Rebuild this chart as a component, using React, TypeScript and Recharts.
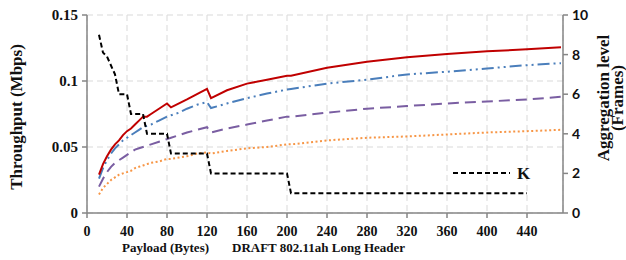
import React from 'react';
import { LineChart, Line, XAxis, YAxis, CartesianGrid } from 'recharts';

// payload sizes (bytes) where the curves were sampled
const payload = [12, 16, 20, 24, 28, 32, 36, 40, 44, 48, 52, 56, 60, 64, 72, 80, 84, 92, 100, 110, 120, 124, 140, 160, 180, 200, 204, 240, 280, 320, 360, 400, 440, 474];

// throughput (Mbps), left axis
const redSeries = [0.029, 0.037, 0.043, 0.048, 0.052, 0.055, 0.059, 0.062, 0.064, 0.067, 0.07, 0.073, 0.073, 0.075, 0.079, 0.083, 0.08, 0.083, 0.086, 0.09, 0.094, 0.087, 0.093, 0.098, 0.101, 0.104, 0.104, 0.11, 0.1145, 0.118, 0.1205, 0.1225, 0.124, 0.1255];
const blueSeries = [0.026, 0.034, 0.04, 0.045, 0.049, 0.052, 0.055, 0.057, 0.059, 0.061, 0.063, 0.065, 0.066, 0.067, 0.07, 0.073, 0.074, 0.076, 0.079, 0.082, 0.084, 0.0795, 0.083, 0.087, 0.0905, 0.0935, 0.094, 0.098, 0.101, 0.105, 0.107, 0.1095, 0.112, 0.1135];
const purpleSeries = [0.02, 0.026, 0.031, 0.035, 0.038, 0.04, 0.042, 0.044, 0.046, 0.048, 0.049, 0.05, 0.051, 0.052, 0.054, 0.056, 0.057, 0.059, 0.061, 0.063, 0.065, 0.061, 0.064, 0.067, 0.07, 0.073, 0.073, 0.076, 0.079, 0.081, 0.083, 0.0845, 0.086, 0.088];
const orangeSeries = [0.014, 0.019, 0.022, 0.025, 0.027, 0.029, 0.03, 0.031, 0.032, 0.034, 0.035, 0.036, 0.037, 0.038, 0.039, 0.041, 0.041, 0.042, 0.043, 0.045, 0.046, 0.045, 0.047, 0.049, 0.05, 0.052, 0.052, 0.055, 0.057, 0.058, 0.0595, 0.061, 0.062, 0.063];

// aggregation level K (frames), right axis
const kSeries = [9, 8.1, 7.9, 7.45, 7, 6, 6, 6, 5, 5, 5, 5, 4, 4, 4, 4, 3, 3, 3, 3, 3, 2, 2, 2, 2, 2, 1, 1, 1, 1, 1, 1, 1, null];

const xTicks = [0, 40, 80, 120, 160, 200, 240, 280, 320, 360, 400, 440];
const leftTicks = [0, 0.05, 0.1, 0.15];
const rightTicks = [0, 2, 4, 6, 8, 10];

const data = payload.map((x, i) => ({
  x,
  red: redSeries[i],
  blue: blueSeries[i],
  purple: purpleSeries[i],
  orange: orangeSeries[i],
  k: kSeries[i],
}));

const serif = '"Liberation Serif", "Times New Roman", serif';
const axisGray = '#868686';

export default function App() {
  return (
    <div style={{ position: 'absolute', left: 0, top: 0, width: 626, height: 260, background: '#fff', fontFamily: serif, overflow: 'hidden' }}>
      <LineChart width={626} height={260} data={data} margin={{ top: 15, right: 0, left: 0, bottom: 27 }}>
        <CartesianGrid yAxisId="left" stroke="#d9d9d9" strokeDasharray="6 4" />
        <XAxis
          dataKey="x"
          type="number"
          domain={[0, 476]}
          ticks={xTicks}
          height={20}
          tickSize={5}
          tickMargin={8}
          stroke={axisGray}
          strokeWidth={1.5}
          tick={{ fill: '#111', fontSize: 14, fontWeight: 'bold', fontFamily: serif }}
        />
        <YAxis
          yAxisId="left"
          domain={[0, 0.15]}
          ticks={leftTicks}
          width={87}
          tickSize={5}
          tickMargin={4}
          stroke={axisGray}
          strokeWidth={1.5}
          tickFormatter={(v) => String(v)}
          tick={{ fill: '#111', fontSize: 15, fontWeight: 'bold', fontFamily: serif }}
        />
        <YAxis
          yAxisId="right"
          orientation="right"
          domain={[0, 10]}
          ticks={rightTicks}
          width={63}
          tickSize={5}
          tickMargin={4}
          stroke={axisGray}
          strokeWidth={1.5}
          tick={{ fill: '#111', fontSize: 14, fontWeight: 'bold', fontFamily: 'Lato, "Liberation Sans", sans-serif', textAnchor: 'start' }}
        />
        <Line yAxisId="left" type="linear" dataKey="orange" stroke="#F79646" strokeWidth={2} strokeDasharray="2 2.5" dot={false} isAnimationActive={false} />
        <Line yAxisId="left" type="linear" dataKey="purple" stroke="#7A5EA2" strokeWidth={2} strokeDasharray="11 6" dot={false} isAnimationActive={false} />
        <Line yAxisId="left" type="linear" dataKey="blue" stroke="#4A7EBB" strokeWidth={2} strokeDasharray="12 4 2 4 2 4" dot={false} isAnimationActive={false} />
        <Line yAxisId="left" type="linear" dataKey="red" stroke="#C00000" strokeWidth={2} dot={false} isAnimationActive={false} />
        <Line yAxisId="right" type="linear" dataKey="k" stroke="#000" strokeWidth={2} strokeDasharray="5 3" dot={false} connectNulls={false} isAnimationActive={false} />
      </LineChart>

      {/* legend for K */}
      <svg style={{ position: 'absolute', left: 450, top: 160 }} width={90} height={26}>
        <line x1={3} y1={13} x2={60} y2={13} stroke="#000" strokeWidth={2} strokeDasharray="5 3" />
        <text x={67} y={19} fontSize={17} fontWeight="bold" fontFamily={serif} fill="#111">K</text>
      </svg>

      {/* axis titles */}
      <div style={{ position: 'absolute', left: 17, top: 117, transform: 'translate(-50%, -50%) rotate(-90deg)', whiteSpace: 'nowrap', fontSize: 17, fontWeight: 'bold', color: '#111' }}>
        Throughput (Mbps)
      </div>
      <div style={{ position: 'absolute', left: 611, top: 98, transform: 'translate(-50%, -50%) rotate(-90deg)', whiteSpace: 'nowrap', fontSize: 17, fontWeight: 'bold', color: '#111', textAlign: 'center', lineHeight: '14px' }}>
        Aggregation level<br />(Frames)
      </div>
      <div style={{ position: 'absolute', left: 122, top: 240, whiteSpace: 'nowrap', fontSize: 13, fontWeight: 'bold', color: '#111' }}>
        Payload (Bytes)
      </div>
      <div style={{ position: 'absolute', left: 232, top: 240, whiteSpace: 'nowrap', fontSize: 13, fontWeight: 'bold', color: '#111' }}>
        DRAFT 802.11ah Long Header
      </div>
    </div>
  );
}
